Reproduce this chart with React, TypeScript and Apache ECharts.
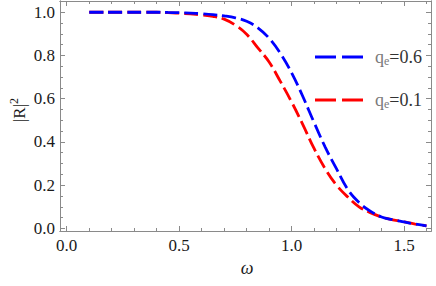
import React, { useEffect, useRef } from "react";
import * as echarts from "echarts";

const omega = [
  0.1, 0.15, 0.2, 0.25, 0.3, 0.35, 0.4, 0.45, 0.5, 0.55, 0.6, 0.65, 0.7, 0.75, 0.8,
  0.85, 0.9, 0.95, 1.0, 1.05, 1.1, 1.15, 1.2, 1.25, 1.3, 1.35, 1.4, 1.45, 1.5, 1.55, 1.6,
];
const reflQ06 = [
  1.0, 1.0, 1.0, 1.0, 1.0, 1.0, 1.0, 0.999, 0.998, 0.996, 0.993, 0.989, 0.983, 0.974, 0.958,
  0.928, 0.88, 0.81, 0.72, 0.61, 0.49, 0.375, 0.275, 0.18, 0.12, 0.08, 0.053, 0.04, 0.03, 0.02, 0.012,
];
const reflQ01 = [
  1.0, 1.0, 1.0, 1.0, 1.0, 1.0, 1.0, 0.998, 0.996, 0.992, 0.987, 0.981, 0.968, 0.94, 0.898,
  0.835, 0.77, 0.68, 0.585, 0.48, 0.37, 0.275, 0.2, 0.145, 0.1, 0.073, 0.053, 0.04, 0.03, 0.02, 0.012,
];
const seriesNames = ["0.6", "0.1"];
const xMajorTicks = [0, 0.5, 1.0, 1.5];
const xMinorTicks = [0, 0.1, 0.2, 0.3, 0.4, 0.5, 0.6, 0.7, 0.8, 0.9, 1.0, 1.1, 1.2, 1.3, 1.4, 1.5, 1.6];
const yMajorTicks = [0, 0.2, 0.4, 0.6, 0.8, 1.0];
const yMinorTicks = [
  0, 0.05, 0.1, 0.15, 0.2, 0.25, 0.3, 0.35, 0.4, 0.45, 0.5, 0.55, 0.6, 0.65, 0.7, 0.75, 0.8,
  0.85, 0.9, 0.95, 1.0, 1.05,
];

const SERIF = "Liberation Serif";
const AX = "#8a8a8a";
const XMIN = -0.03;
const XMAX = 1.62;
const YMIN = -0.012;
const YMAX = 1.052;

function xAxisDef(position: "top" | "bottom", ticks: number[], len: number, labels: boolean) {
  return {
    type: "value",
    min: XMIN,
    max: XMAX,
    position,
    axisLine: { show: true, onZero: false, lineStyle: { color: AX, width: 1 } },
    axisTick: { show: true, inside: true, length: len, customValues: ticks, lineStyle: { color: AX, width: 1 } },
    axisLabel: labels
      ? {
          show: true,
          customValues: xMajorTicks,
          formatter: (v: number) => v.toFixed(1),
          fontFamily: SERIF,
          fontSize: 17,
          color: "#1a1a1a",
          margin: 6,
        }
      : { show: false },
    splitLine: { show: false },
  };
}

function yAxisDef(position: "left" | "right", ticks: number[], len: number, labels: boolean) {
  return {
    type: "value",
    min: YMIN,
    max: YMAX,
    position,
    axisLine: { show: true, onZero: false, lineStyle: { color: AX, width: 1 } },
    axisTick: { show: true, inside: true, length: len, customValues: ticks, lineStyle: { color: AX, width: 1 } },
    axisLabel: labels
      ? {
          show: true,
          customValues: yMajorTicks,
          formatter: (v: number) => v.toFixed(1),
          fontFamily: SERIF,
          fontSize: 17,
          color: "#1a1a1a",
          margin: 5,
        }
      : { show: false },
    splitLine: { show: false },
  };
}

function legendEntry(y: number, color: string, label: string) {
  return [
    {
      type: "line",
      shape: { x1: 315, y1: y, x2: 363, y2: y },
      style: { stroke: color, lineWidth: 2.8, lineDash: [21, 6] },
      z: 10,
    },
    {
      type: "text",
      x: 375,
      y: y,
      style: {
        text: "{q|q}{e|e}{v|=" + label + "}",
        verticalAlign: "middle",
        rich: {
          q: { fontFamily: SERIF, fontSize: 18, fill: "#7a7a7a", lineHeight: 20, verticalAlign: "middle" },
          e: { fontFamily: SERIF, fontSize: 12, fill: "#7a7a7a", lineHeight: 14, verticalAlign: "bottom", padding: [6, 0, 0, 0] },
          v: { fontFamily: SERIF, fontSize: 18, fill: "#333333", lineHeight: 20, verticalAlign: "middle" },
        },
      },
      z: 10,
    },
  ];
}

export default function App() {
  const ref = useRef<HTMLDivElement>(null);
  useEffect(() => {
    if (!ref.current) return;
    const chart = echarts.init(ref.current, null, { renderer: "svg" });
    const blueData = omega.map((w, i) => [w, reflQ06[i]]);
    const redData = omega.map((w, i) => [w, reflQ01[i]]);
    chart.setOption({
      animation: false,
      backgroundColor: "#ffffff",
      textStyle: { fontFamily: SERIF },
      grid: { left: 60, right: 5, top: 1, bottom: 55, containLabel: false },
      xAxis: [
        xAxisDef("bottom", xMajorTicks, 5, true),
        xAxisDef("bottom", xMinorTicks, 3, false),
        xAxisDef("top", xMajorTicks, 5, false),
        xAxisDef("top", xMinorTicks, 3, false),
      ],
      yAxis: [
        yAxisDef("left", yMajorTicks, 5, true),
        yAxisDef("left", yMinorTicks, 3, false),
        yAxisDef("right", yMajorTicks, 5, false),
        yAxisDef("right", yMinorTicks, 3, false),
      ],
      series: [
        {
          name: seriesNames[1],
          type: "line",
          data: redData,
          showSymbol: false,
          smooth: 0.4,
          lineStyle: { color: "#ff0000", width: 2.8, type: [14, 5] },
          z: 2,
        },
        {
          name: seriesNames[0],
          type: "line",
          data: blueData,
          showSymbol: false,
          smooth: 0.4,
          lineStyle: { color: "#0000ff", width: 2.8, type: [14, 5] },
          z: 3,
        },
      ],
      graphic: [
        ...legendEntry(57, "#0000ff", seriesNames[0]),
        ...legendEntry(100, "#ff0000", seriesNames[1]),
        {
          type: "text",
          x: 18,
          y: 110,
          rotation: Math.PI / 2,
          style: {
            text: "{a||R|}{s|2}",
            align: "center",
            verticalAlign: "middle",
            rich: {
              a: { fontFamily: SERIF, fontSize: 17, fill: "#1a1a1a", lineHeight: 20, verticalAlign: "bottom" },
              s: { fontFamily: SERIF, fontSize: 12, fill: "#1a1a1a", lineHeight: 20, verticalAlign: "top" },
            },
          },
        },
        {
          type: "text",
          x: 247,
          y: 268,
          style: {
            text: "ω",
            fontFamily: SERIF,
            fontStyle: "italic",
            fontSize: 18,
            fill: "#1a1a1a",
            align: "center",
            verticalAlign: "middle",
          },
        },
      ],
    });
    return () => chart.dispose();
  }, []);
  return <div ref={ref} style={{ position: "fixed", left: 0, top: 0, width: 436, height: 286 }} />;
}
